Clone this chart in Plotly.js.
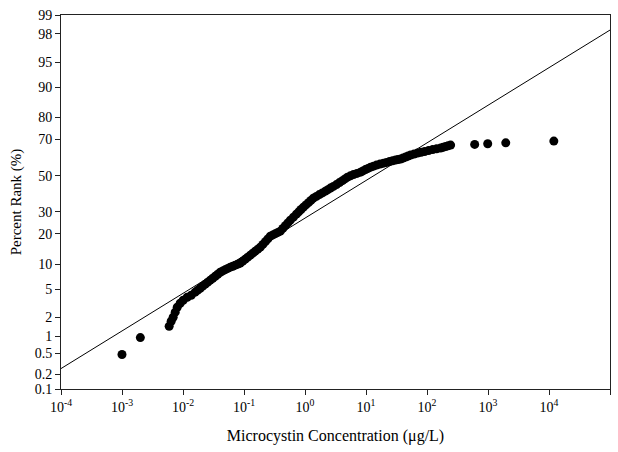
<!DOCTYPE html>
<html>
<head>
<meta charset="utf-8">
<script src="https://cdn.plot.ly/plotly-3.0.1.min.js"></script>
<style>html,body{margin:0;padding:0;background:#fff;}#chart{width:618px;height:452px;}</style>
</head>
<body>
<div id="chart"></div>
<script>
var concentration = [
  0.001, 0.002,
  0.00593, 0.0064, 0.0069, 0.00745, 0.00804, 0.00899, 0.01007, 0.01172, 0.01365, 0.01585,
  0.01742, 0.01914, 0.02103, 0.0232, 0.02547, 0.028, 0.03076, 0.0338, 0.03715, 0.0408,
  0.04487, 0.0493, 0.0542, 0.0596, 0.0655, 0.072, 0.0791, 0.0869, 0.0955, 0.105,
  0.1153, 0.127, 0.1393, 0.153, 0.1686, 0.185, 0.2037, 0.224, 0.246, 0.27,
  0.2972, 0.327, 0.3589, 0.394, 0.4335, 0.476, 0.5236, 0.575, 0.6457, 0.722,
  0.789, 0.861, 0.942, 1.035, 1.14, 1.25, 1.37, 1.538, 1.72, 1.931,
  2.16, 2.377, 2.61, 2.924, 3.28, 3.673, 4.11, 4.519, 4.97, 5.56,
  6.24, 7.11, 8.13, 8.93, 9.82, 10.79, 11.9, 13.28, 14.9, 16.98,
  19.4, 21.73, 24.3, 27.23, 30.5, 33.5, 36.9, 40.5, 44.6, 48.9,
  53.8, 61.4, 70.1, 80.0, 91.4, 106.2, 124, 143.9, 167, 183.7,
  202, 221.8, 244,
  605, 989, 1954, 12000
];
var percentRank = [
  0.48, 0.95,
  1.46, 1.75, 2.01, 2.40, 2.83, 3.23, 3.56, 3.91, 4.16, 4.57,
  4.86, 5.15, 5.47, 5.80, 6.14, 6.50, 6.87, 7.26, 7.67, 8.09,
  8.38, 8.66, 8.95, 9.24, 9.48, 9.73, 9.98, 10.24, 10.77, 11.31,
  11.88, 12.47, 13.07, 13.70, 14.34, 15.01, 15.96, 16.94, 17.97, 19.03,
  19.52, 20.02, 20.55, 21.07, 22.24, 23.43, 24.67, 25.95, 27.39, 28.84,
  30.01, 31.20, 32.39, 33.58, 34.79, 35.98, 37.22, 38.17, 39.17, 40.13,
  41.11, 41.96, 42.82, 43.81, 44.83, 45.97, 47.11, 48.12, 49.13, 49.86,
  50.58, 51.30, 52.02, 52.74, 53.47, 54.18, 54.9, 55.47, 56.05, 56.62,
  57.18, 57.61, 58.04, 58.46, 58.9, 59.17, 59.45, 60.01, 60.57, 61.13,
  61.68, 62.23, 62.78, 63.19, 63.6, 64.14, 64.68, 65.09, 65.5, 65.89,
  66.28, 66.68, 67.08,
  67.44, 67.76, 68.27, 69.15
];
// Fitted lognormal line (end points)
var fitConcentration = [1e-4, 1e5];
var fitPercent = [0.26, 98.25];

// Axis ticks
var yTickPercents = [0.1, 0.2, 0.5, 1, 2, 5, 10, 20, 30, 50, 70, 80, 90, 95, 98, 99];
var yTickLabels = ['0.1','0.2','0.5','1','2','5','10','20','30','50','70','80','90','95','98','99'];
var xTickValues = [1e-4, 1e-3, 1e-2, 1e-1, 1e0, 1e1, 1e2, 1e3, 1e4, 1e5];
var xTickLabels = ['10<sup>-4</sup>','10<sup>-3</sup>','10<sup>-2</sup>','10<sup>-1</sup>','10<sup>0</sup>',
                   '10<sup>1</sup>','10<sup>2</sup>','10<sup>3</sup>','10<sup>4</sup>','10<sup>5</sup>'];

// Probit (inverse standard normal CDF) – Acklam's approximation
function probit(p) {
  var a = [-3.969683028665376e+01, 2.209460984245205e+02, -2.759285104469687e+02, 1.383577518672690e+02, -3.066479806614716e+01, 2.506628277459239e+00];
  var b = [-5.447609879822406e+01, 1.615858368580409e+02, -1.556989798598866e+02, 6.680131188771972e+01, -1.328068155288572e+01];
  var c = [-7.784894002430293e-03, -3.223964580411365e-01, -2.400758277161838e+00, -2.549732539343734e+00, 4.374664141464968e+00, 2.938163982698783e+00];
  var d = [7.784695709041462e-03, 3.224671290700398e-01, 2.445134137142996e+00, 3.754408661907416e+00];
  var pl = 0.02425, q, r;
  if (p < pl) {
    q = Math.sqrt(-2 * Math.log(p));
    return (((((c[0]*q+c[1])*q+c[2])*q+c[3])*q+c[4])*q+c[5]) / ((((d[0]*q+d[1])*q+d[2])*q+d[3])*q+1);
  } else if (p <= 1 - pl) {
    q = p - 0.5; r = q * q;
    return (((((a[0]*r+a[1])*r+a[2])*r+a[3])*r+a[4])*r+a[5])*q / (((((b[0]*r+b[1])*r+b[2])*r+b[3])*r+b[4])*r+1);
  } else {
    q = Math.sqrt(-2 * Math.log(1 - p));
    return -(((((c[0]*q+c[1])*q+c[2])*q+c[3])*q+c[4])*q+c[5]) / ((((d[0]*q+d[1])*q+d[2])*q+d[3])*q+1);
  }
}
function toZ(arr) { return arr.map(function (v) { return probit(v / 100); }); }

var font = 'Liberation Serif, Times New Roman, serif';

var traces = [
  {
    x: fitConcentration, y: toZ(fitPercent), type: 'scatter', mode: 'lines',
    line: {color: '#000', width: 1}, hoverinfo: 'skip', showlegend: false
  },
  {
    x: concentration, y: toZ(percentRank), type: 'scatter', mode: 'markers',
    marker: {color: '#000', size: 9, symbol: 'circle'}, showlegend: false
  }
];

var layout = {
  width: 618, height: 452,
  margin: {l: 61, r: 8, t: 15, b: 63},
  paper_bgcolor: '#fff', plot_bgcolor: '#fff',
  font: {family: font, size: 14, color: '#000'},
  showlegend: false,
  xaxis: {
    type: 'log', range: [-4, 5],
    tickvals: xTickValues, ticktext: xTickLabels,
    ticks: 'outside', ticklen: 5, tickwidth: 1, tickcolor: '#222',
    showline: true, linecolor: '#222', linewidth: 1, mirror: true,
    showgrid: false, zeroline: false,
    tickfont: {family: font, size: 14, color: '#000'},
    title: {text: 'Microcystin Concentration (μg/L)', font: {family: font, size: 16, color: '#000'}, standoff: 16}
  },
  yaxis: {
    range: [probit(0.001), probit(0.99)],
    tickvals: toZ(yTickPercents), ticktext: yTickLabels,
    ticks: 'outside', ticklen: 5, tickwidth: 1, tickcolor: '#222',
    showline: true, linecolor: '#222', linewidth: 1, mirror: true,
    showgrid: false, zeroline: false,
    tickfont: {family: font, size: 14, color: '#000'},
    title: {text: 'Percent Rank (%)', font: {family: font, size: 15, color: '#000'}, standoff: 9}
  }
};

Plotly.newPlot('chart', traces, layout, {displayModeBar: false, staticPlot: true});
</script>
</body>
</html>
